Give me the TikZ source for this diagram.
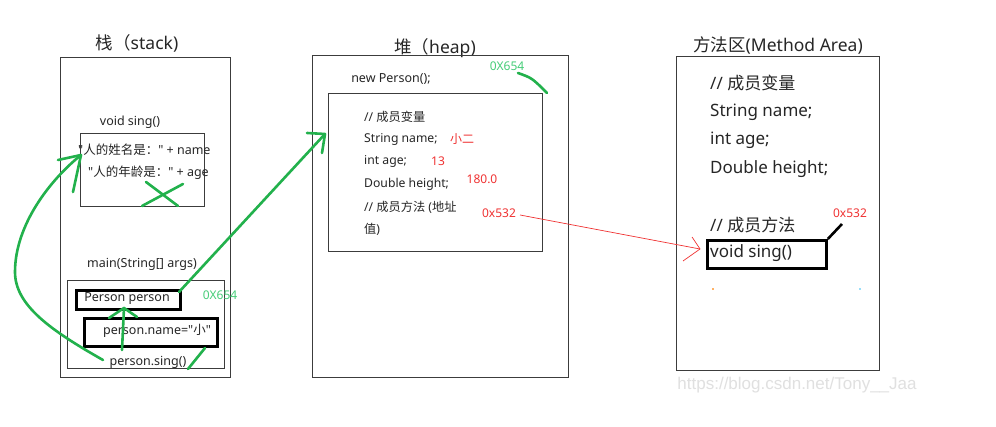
\documentclass[tikz,border=0pt]{standalone}
\usepackage{fontspec}
\setmainfont{Noto Sans}[Ligatures=TeXOff]
\newfontfamily\zhfont{Noto Sans CJK SC}[Ligatures=TeXOff]
\newcommand{\zh}[1]{{\zhfont #1}}
\newfontfamily\wmfont{Liberation Sans}
\definecolor{pgreen}{RGB}{34,177,76}
\definecolor{lgreen}{RGB}{70,205,120}
\definecolor{pred}{RGB}{240,50,50}
\definecolor{boxgray}{RGB}{60,60,60}
\tikzset{
  frame/.style={draw=boxgray, line width=1.2pt, rectangle, anchor=north west, inner sep=0},
  thickbox/.style={draw=black, line width=2.8pt, rectangle, anchor=north west, inner sep=0},
  gline/.style={draw=pgreen, line width=2.6pt, line cap=round, line join=round},
  rline/.style={draw=pred, line width=0.7pt},
  small/.style={font=\fontsize{12.5}{14}\selectfont, inner sep=0, text=black!85},
  heaptxt/.style={font=\fontsize{12.2}{14}\selectfont, inner sep=0, anchor=west, text=black!85},
  bigtxt/.style={font=\fontsize{17}{20}\selectfont, inner sep=0, anchor=west, text=black!85},
  title/.style={font=\fontsize{17.5}{20}\selectfont, inner sep=0, text=black!85},
  redtxt/.style={font=\fontsize{12}{14}\selectfont, inner sep=0, text=pred},
  grtxt/.style={font=\fontsize{12}{14}\selectfont, inner sep=0, text=lgreen},
}
\begin{document}
\begin{tikzpicture}[x=1pt,y=-1pt]
\useasboundingbox (0,0) rectangle (996,427);
\fill[white] (0,0) rectangle (996,427);

% ---------- stack ----------
\node[title] (stitle) at (137,43) {\zh{栈（}stack)};
\node[frame, minimum width=170, minimum height=320] (stack) at (60,57) {};
\node[small] (voidlbl) at (130,122) {void sing()};
\node[frame, minimum width=124, minimum height=73] (voidbox) at (80,133) {};
\node[small, anchor=west] (s1) at (78,150) {"\zh{人的姓名是：}" + name};
\node[small, anchor=west] (s2) at (88,173) {"\zh{人的年龄是：}" + age};
\node[small] (mainlbl) at (142,264) {main(String[] args)};
\node[frame, minimum width=157, minimum height=88] (mainbox) at (67,280) {};
\node[thickbox, minimum width=104, minimum height=19] (pbox) at (75,289) {};
\node[small] (ptxt) at (127,299) {Person person};
\node[thickbox, minimum width=133, minimum height=28] (nbox) at (83,317) {};
\node[small] (ntxt) at (157,331) {person.name="\zh{小}"};
\node[small] (sing) at (148,362) {person.sing()};
\node[grtxt] (g654a) at (220,295) {0X654};

% ---------- heap ----------
\node[title] (htitle) at (435,48) {\zh{堆（}heap)};
\node[frame, minimum width=256, minimum height=322] (heap) at (312,55) {};
\node[small] (newp) at (391,79) {new Person();};
\node[grtxt] (g654b) at (507,66) {0X654};
\node[frame, minimum width=214, minimum height=158] (obj) at (328,93) {};
\node[heaptxt] (h1) at (364,117) {// \zh{成员变量}};
\node[heaptxt] (h2) at (364,139) {String name;};
\node[heaptxt] (h3) at (364,161) {int age;};
\node[heaptxt] (h4) at (364,184) {Double height;};
\node[heaptxt] (h5) at (364,207) {// \zh{成员方法} (\zh{地址}};
\node[heaptxt] (h6) at (364,229) {\zh{值})};
\node[redtxt] (v1) at (462,139) {\zh{小二}};
\node[redtxt] (v2) at (438,161) {13};
\node[redtxt] (v3) at (482,179) {180.0};
\node[redtxt] (a1) at (499,213) {0x532};

% ---------- method area ----------
\node[title] (mtitle) at (778,45) {\zh{方法区}(Method Area)};
\node[frame, minimum width=203, minimum height=314] (marea) at (676,56) {};
\node[bigtxt] (m1) at (710,83) {// \zh{成员变量}};
\node[bigtxt] (m2) at (710,112) {String name;};
\node[bigtxt] (m3) at (710,140) {int age;};
\node[bigtxt] (m4) at (710,169) {Double height;};
\node[bigtxt] (m5) at (710,225) {// \zh{成员方法}};
\node[thickbox, minimum width=119, minimum height=28] (msing) at (706,239) {};
\node[bigtxt] (m6) at (710,253) {void sing()};
\node[redtxt] (a2) at (850,213) {0x532};
\fill[orange!60] (712,288) rectangle (714,290);
\fill[cyan!40] (859,288) rectangle (861,290);

% ---------- connectors ----------
% green cross on void sing()
\draw[gline] (146,182) -- (178,206);
\draw[gline] (142,206) -- (183,184);
% curve from person.sing() to void sing()
\coordinate (c1s) at (103,360);
\coordinate (c1t) at (81,155);
\draw[gline] (c1s) .. controls (50,330) and (15,305) .. (15,272)
  .. controls (15,225) and (50,180) .. (c1t);
\draw[gline] (58,160) -- (c1t) -- (73,192);
% vertical arrow to Person person
\coordinate (c2s) at (122,350);
\coordinate (c2t) at (124,308);
\draw[gline] (c2s) -- (c2t);
\draw[gline] (109,318) -- (c2t) -- (137,317);
% Person person -> heap object
\coordinate (c3s) at (179,292);
\coordinate (c3t) at (325,134);
\draw[gline] (c3s) -- (c3t);
\draw[gline] (307,133) -- (c3t) -- (322,153);
% short stroke near person.sing()
\draw[gline] (188,369) -- (205,348);
% stroke in heap
\draw[gline] (518,73) .. controls (532,78) .. (547,93);
% red arrow
\coordinate (r1s) at (520,215);
\coordinate (r1t) at (700,249);
\draw[rline] (r1s) -- (r1t);
\draw[rline] (692,237) -- (r1t) -- (683,261);
% black line to 0x532
\draw[black, line width=2.6pt] (msing.north east) -- (842,224);

% watermark
\node[font=\wmfont\fontsize{17}{20}\selectfont, text=black!12, inner sep=0] (wm) at (797,385) {https://blog.csdn.net/Tony\_\_Jaa};
\end{tikzpicture}
\end{document}
